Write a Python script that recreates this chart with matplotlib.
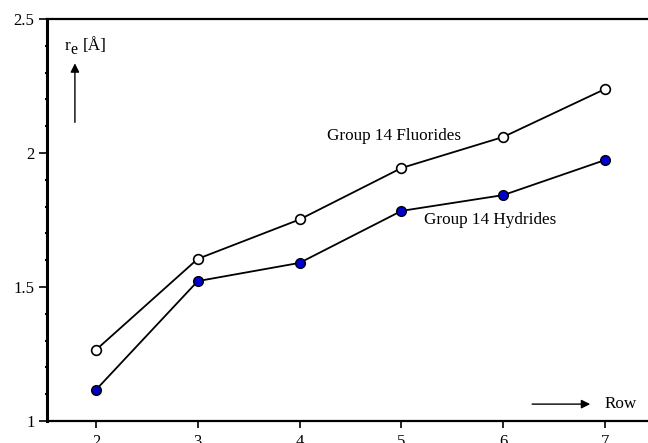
import matplotlib.pyplot as plt
from matplotlib.ticker import MultipleLocator, FormatStrFormatter

rows = [2, 3, 4, 5, 6, 7]
fluorides = [1.265, 1.605, 1.752, 1.944, 2.06, 2.239]
hydrides = [1.116, 1.522, 1.590, 1.784, 1.843, 1.974]

plt.rcParams['font.family'] = ['Liberation Serif', 'DejaVu Serif']

fig = plt.figure(figsize=(6.48, 4.43), dpi=100)
W, H = 648, 443
ax = fig.add_axes([47 / W, (H - 421) / H, (W - 47) / W, (421 - 19) / H])

ax.plot(rows, fluorides, '-o', color='black', lw=1.3, markersize=7,
        markerfacecolor='white', markeredgecolor='black', markeredgewidth=1.2)
ax.plot(rows, hydrides, '-o', color='black', lw=1.3, markersize=7,
        markerfacecolor='#0000cc', markeredgecolor='black', markeredgewidth=1.0)

ax.set_xlim(1.52, 7.42)
ax.set_ylim(1.0, 2.5)
ax.set_xticks(rows)
ax.yaxis.set_major_locator(MultipleLocator(0.5))
ax.yaxis.set_minor_locator(MultipleLocator(0.1))
ax.yaxis.set_major_formatter(FormatStrFormatter('%g'))

ax.spines['right'].set_visible(False)
ax.spines['left'].set_linewidth(2.2)
ax.spines['bottom'].set_linewidth(1.6)
ax.spines['top'].set_linewidth(1.6)
ax.tick_params(axis='y', which='major', direction='out', length=6, width=1.2,
               labelsize=12, pad=3)
ax.tick_params(axis='y', which='minor', direction='out', length=1.5, width=1.5)
ax.tick_params(axis='x', which='major', direction='out', length=5, width=1.2,
               labelsize=12, pad=4)

ax.text(4.27, 2.063, 'Group 14 Fluorides', fontsize=12.3, ha='left', va='center')
ax.text(5.22, 1.75, 'Group 14 Hydrides', fontsize=12.3, ha='left', va='center')

# r_e [Å] with a large, lowered subscript
ax.text(1.696, 2.385, 'r', fontsize=12.3, ha='left', va='baseline')
ax.text(1.751, 2.369, 'e', fontsize=11.5, ha='left', va='baseline')
ax.text(1.875, 2.385, '[Å]', fontsize=12.3, ha='left', va='baseline')
ax.annotate('', xy=(1.794, 2.345), xytext=(1.794, 2.104),
            arrowprops=dict(arrowstyle='-|>', color='black', lw=1.0,
                            mutation_scale=13))
ax.annotate('', xy=(6.88, 1.063), xytext=(6.255, 1.063),
            arrowprops=dict(arrowstyle='-|>', color='black', lw=1.0,
                            mutation_scale=13))
ax.text(6.99, 1.065, 'Row', fontsize=12.3, ha='left', va='center')

fig.savefig('out.png', dpi=100)
